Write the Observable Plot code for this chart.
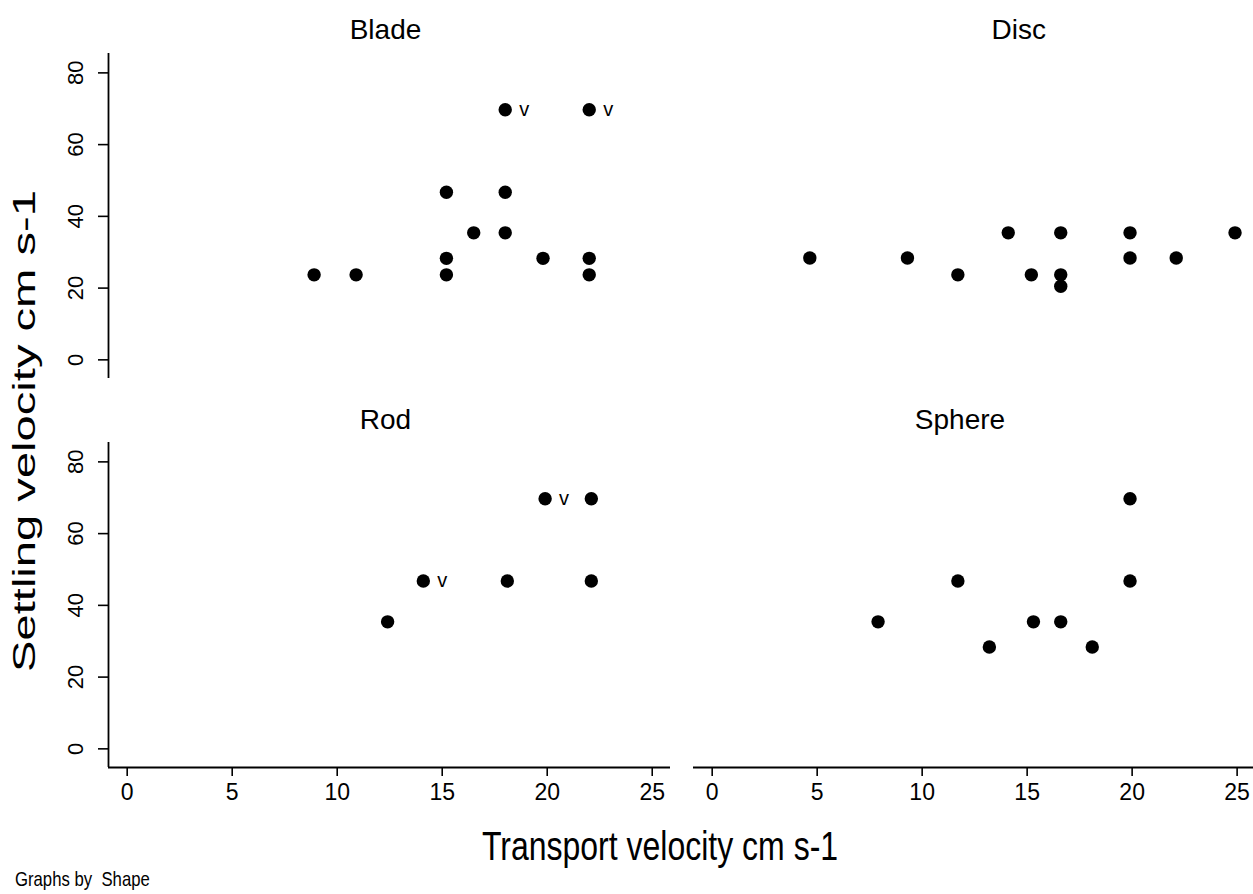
<!DOCTYPE html>
<html>
<head>
<meta charset="utf-8">
<script src="https://cdn.jsdelivr.net/npm/d3@7"></script>
<script src="https://cdn.jsdelivr.net/npm/@observablehq/plot@0.6"></script>
<style>
  html, body { margin: 0; padding: 0; background: #fff; }
  #wrap { position: relative; width: 1253px; height: 894px; overflow: hidden; font-family: "Liberation Sans", Arial, sans-serif; color: #000; }
  .panel { position: absolute; }
  .xtitle { position: absolute; left: 360px; width: 600px; top: 824px; text-align: center; font-size: 32px; line-height: 36px; transform: scaleY(1.25); transform-origin: 300px 0; white-space: pre; }
  .ytitle { position: absolute; left: -275px; width: 600px; top: 413px; height: 36px; text-align: center; font-size: 31px; line-height: 36px; transform: rotate(-90deg) scaleX(1.52); transform-origin: 300px 18px; white-space: pre; }
  .caption { position: absolute; left: 15px; top: 867px; font-size: 19px; line-height: 22px; white-space: pre; transform: scale(0.88, 1.1); transform-origin: 0 0; }
</style>
</head>
<body>
<div id="wrap"></div>
<script>
// ---- Data ----
const shapes = ["Blade", "Disc", "Rod", "Sphere"];

const bladeX = [8.9, 10.9, 15.2, 15.2, 15.2, 16.5, 18.0, 18.0, 18.0, 19.8, 22.0, 22.0, 22.0];
const bladeY = [23.7, 23.7, 46.7, 28.3, 23.7, 35.4, 69.7, 46.7, 35.4, 28.3, 69.7, 28.3, 23.7];
const bladeFlag = ["", "", "", "", "", "", "v", "", "", "", "v", "", ""];

const discX = [4.65, 9.3, 11.7, 14.1, 15.2, 16.6, 16.6, 16.6, 19.9, 19.9, 22.1, 24.9];
const discY = [28.4, 28.4, 23.7, 35.4, 23.7, 35.4, 23.7, 20.5, 35.4, 28.4, 28.4, 35.4];
const discFlag = ["", "", "", "", "", "", "", "", "", "", "", ""];

const rodX = [12.4, 14.1, 18.1, 19.9, 22.1, 22.1];
const rodY = [35.4, 46.8, 46.8, 69.7, 69.7, 46.8];
const rodFlag = ["", "v", "", "v", "", ""];

const sphereX = [7.9, 11.7, 13.2, 15.3, 16.6, 18.1, 19.9, 19.9];
const sphereY = [35.4, 46.8, 28.4, 35.4, 35.4, 28.4, 69.7, 46.8];
const sphereFlag = ["", "", "", "", "", "", "", ""];

const xTicks = [0, 5, 10, 15, 20, 25];
const yTicks = [0, 20, 40, 60, 80];

const xTitle = "Transport velocity cm s-1";
const yTitle = "Settling velocity cm s-1";
const caption = "Graphs by  Shape";

// ---- Build tables ----
function table(xs, ys, flags) {
  return xs.map((x, i) => ({x, y: ys[i], flag: flags[i]}));
}
const series = {
  Blade: table(bladeX, bladeY, bladeFlag),
  Disc: table(discX, discY, discFlag),
  Rod: table(rodX, rodY, rodFlag),
  Sphere: table(sphereX, sphereY, sphereFlag)
};

const FONT = "'Liberation Sans', Arial, sans-serif";
const yDomain = [-5.2, 85.4];

const layout = {
  Blade:  {left: 0,   top: 0,   width: 680, height: 380, ml: 108, mr: 10, mt: 53, mb: 2,  xd: [-0.89, 25.87], yAxis: true,  xAxis: false, tx: 12.3, ty: 30},
  Disc:   {left: 680, top: 0,   width: 573, height: 380, ml: 13,  mr: 0,  mt: 53, mb: 2,  xd: [-0.89, 25.78], yAxis: false, xAxis: false, tx: 14.6, ty: 30},
  Rod:    {left: 0,   top: 380, width: 680, height: 440, ml: 108, mr: 10, mt: 62, mb: 53, xd: [-0.89, 25.87], yAxis: true,  xAxis: true,  tx: 12.3, ty: 40},
  Sphere: {left: 680, top: 380, width: 573, height: 440, ml: 13,  mr: 0,  mt: 62, mb: 53, xd: [-0.89, 25.78], yAxis: false, xAxis: true,  tx: 11.8, ty: 40}
};

const wrap = document.getElementById("wrap");

for (const s of shapes) {
  const L = layout[s];
  const data = series[s];
  const marks = [];
  if (L.yAxis) {
    marks.push(Plot.ruleX([L.xd[0]], {stroke: "black", strokeWidth: 1.8}));
    marks.push(Plot.axisY({ticks: yTicks, tickSize: 10, tickFormat: () => "", strokeWidth: 1.6, label: null}));
    marks.push(Plot.text(yTicks, {y: d => d, text: d => String(d), frameAnchor: "left", dx: -33, rotate: -90, fontSize: 22, fill: "black", lineAnchor: "middle", textAnchor: "middle", ariaLabel: "y-tick-label"}));
  }
  if (L.xAxis) {
    marks.push(Plot.ruleY([yDomain[0]], {stroke: "black", strokeWidth: 1.8}));
    marks.push(Plot.axisX({ticks: xTicks, tickSize: 9, tickFormat: () => "", strokeWidth: 1.6, label: null}));
    marks.push(Plot.text(xTicks, {x: d => d, text: d => String(d), frameAnchor: "bottom", dy: 16, fontSize: 23, fill: "black", lineAnchor: "top", textAnchor: "middle", ariaLabel: "x-tick-label"}));
  }
  marks.push(Plot.dot(data, {x: "x", y: "y", r: 6.7, fill: "black", stroke: "none"}));
  marks.push(Plot.text(data.filter(d => d.flag), {x: "x", y: "y", text: "flag", dx: 14, textAnchor: "start", fontSize: 20, fill: "black"}));
  marks.push(Plot.text([s], {x: () => L.tx, frameAnchor: "top", dy: -(L.mt - L.ty), text: d => d, fontSize: 28, fill: "black", lineAnchor: "middle"}));

  const chart = Plot.plot({
    width: L.width,
    height: L.height,
    marginLeft: L.ml,
    marginRight: L.mr,
    marginTop: L.mt,
    marginBottom: L.mb,
    x: {domain: L.xd, axis: null},
    y: {domain: yDomain, axis: null},
    style: {fontFamily: FONT, color: "black", background: "transparent", overflow: "visible"},
    marks
  });
  // the scanned reference shows tick labels stretched vertically
  d3.select(chart).selectAll("g[aria-label='x-tick-label'] text").each(function() {
    const t = this.getAttribute("transform") || "";
    this.setAttribute("transform", t + " scale(1,1.35)");
  });
  d3.select(chart).selectAll("g[aria-label='y-tick-label'] text").each(function() {
    const t = this.getAttribute("transform") || "";
    this.setAttribute("transform", t + " scale(1.25,1)");
  });
  chart.classList.add("panel");
  chart.style.left = L.left + "px";
  chart.style.top = L.top + "px";
  wrap.appendChild(chart);
}

const xt = document.createElement("div");
xt.className = "xtitle"; xt.textContent = xTitle; wrap.appendChild(xt);
const yt = document.createElement("div");
yt.className = "ytitle"; yt.textContent = yTitle; wrap.appendChild(yt);
const cap = document.createElement("div");
cap.className = "caption"; cap.textContent = caption; wrap.appendChild(cap);
</script>
</body>
</html>
